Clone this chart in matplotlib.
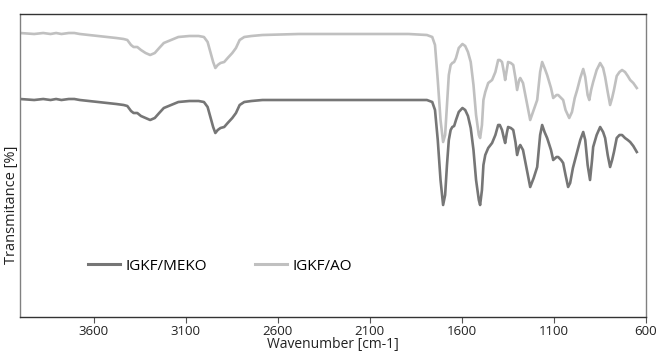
import matplotlib
matplotlib.use("Agg")
import matplotlib.pyplot as plt

plt.rcParams['font.family'] = ['Open Sans', 'DejaVu Sans']

# Wavenumber (cm-1) and transmittance (arbitrary units)
wn_ao = [4000, 3923, 3874, 3834, 3804, 3775, 3735, 3705, 3675, 3626, 3576, 3526, 3477,
         3437, 3417, 3397, 3383, 3363, 3343, 3318, 3293, 3268, 3244, 3219, 3179, 3140,
         3080, 3030, 3001, 2981, 2966, 2951, 2939, 2926, 2911, 2891, 2872, 2847, 2827,
         2807, 2782, 2743, 2683, 2485, 2286, 2088, 1890, 1790, 1761, 1746, 1731, 1716,
         1702, 1691, 1681, 1671, 1661, 1652, 1642, 1632, 1617, 1597, 1582, 1567, 1552,
         1537, 1523, 1508, 1501, 1491, 1483, 1473, 1457, 1436, 1418, 1403, 1394, 1382,
         1372, 1365, 1356, 1349, 1334, 1321, 1309, 1300, 1289, 1283, 1268, 1250, 1229,
         1210, 1191, 1175, 1164, 1151, 1137, 1116, 1104, 1086, 1077, 1061, 1050, 1037,
         1017, 1002, 987, 974, 957, 941, 930, 917, 908, 898, 887, 868, 849, 833, 822,
         808, 795, 784, 774, 759, 744, 730, 714, 699, 686, 669, 650]
t_ao = [276, 275, 276, 275, 276, 275, 276, 276, 275, 274, 273, 272, 271,
        270, 269, 264, 262, 262, 259, 256, 254, 256, 261, 266, 269, 272,
        273, 273, 272, 267, 257, 247, 241, 244, 246, 247, 251, 256, 261,
        269, 272, 273, 274, 275, 275, 275, 275, 274, 272, 264, 229, 189,
        167, 174, 204, 234, 244, 246, 247, 251, 261, 265, 263, 257, 247,
        224, 194, 174, 171, 184, 209, 217, 226, 229, 237, 249, 249, 247,
        237, 229, 239, 247, 246, 244, 231, 219, 229, 231, 226, 209, 189,
        199, 209, 237, 247, 241, 234, 221, 211, 214, 214, 211, 209, 199,
        191, 197, 211, 219, 231, 240, 232, 214, 209, 219, 227, 239, 246, 241, 232,
        217, 204, 211, 219, 233, 237, 239, 237, 233, 229, 226, 221]

wn_meko = [4000, 3923, 3874, 3834, 3804, 3775, 3735, 3705, 3675, 3626, 3576, 3526, 3477,
           3437, 3417, 3397, 3383, 3363, 3343, 3318, 3293, 3268, 3244, 3219, 3179, 3140,
           3080, 3030, 3001, 2981, 2966, 2951, 2939, 2926, 2911, 2891, 2872, 2847, 2827,
           2807, 2782, 2743, 2683, 2485, 2286, 2088, 1890, 1790, 1761, 1746, 1731, 1716,
           1702, 1691, 1681, 1671, 1661, 1652, 1642, 1632, 1617, 1597, 1582, 1567, 1552,
           1537, 1523, 1508, 1501, 1491, 1483, 1473, 1457, 1436, 1418, 1403, 1394, 1382,
           1372, 1365, 1356, 1349, 1334, 1321, 1309, 1300, 1289, 1283, 1268, 1250, 1229,
           1210, 1191, 1175, 1164, 1151, 1137, 1116, 1104, 1086, 1077, 1061, 1050, 1037,
           1023, 1012, 997, 974, 957, 941, 930, 917, 904, 893, 887, 868, 849, 833, 822,
           808, 795, 784, 774, 759, 744, 730, 714, 699, 686, 669, 650]
t_meko = [210, 209, 210, 209, 210, 209, 210, 210, 209, 208, 207, 206, 205,
          204, 203, 198, 196, 196, 193, 191, 189, 191, 196, 201, 204, 207,
          208, 208, 207, 202, 192, 182, 176, 179, 181, 182, 186, 191, 196,
          204, 207, 208, 209, 209, 209, 209, 209, 209, 207, 199, 169, 129,
          104, 114, 144, 169, 179, 182, 183, 189, 197, 201, 199, 193, 181,
          159, 129, 109, 104, 119, 144, 154, 161, 166, 174, 184, 184, 179,
          171, 166, 176, 182, 181, 179, 167, 154, 162, 164, 159, 142, 122,
          131, 142, 174, 184, 177, 171, 159, 149, 152, 152, 149, 146, 134,
          122, 126, 141, 157, 169, 177, 169, 144, 129, 149, 162, 174, 182, 177, 171,
          154, 142, 149, 157, 171, 174, 174, 171, 169, 167, 163, 157]

xticks = [3600, 3100, 2600, 2100, 1600, 1100, 600]

fig = plt.figure(figsize=(6.61, 3.54), dpi=100)
ax = fig.add_axes([20/661, 1 - 317/354, 626/661, 303/354])

ax.plot(wn_meko, t_meko, color='#767676', lw=1.9, label='IGKF/MEKO', solid_joinstyle='round')
ax.plot(wn_ao, t_ao, color='#c0c0c0', lw=1.9, label='IGKF/AO', solid_joinstyle='round')

ax.set_xlim(4000, 600)
ax.set_ylim(-8, 295)
ax.set_xticks(xticks)
ax.set_xticklabels([str(v) for v in xticks], fontsize=9.5, color='#222222')
ax.set_yticks([])
ax.tick_params(axis='x', direction='out', length=4, width=0.8, color='#555555', pad=2)
ax.set_xlabel('Wavenumber [cm-1]', fontsize=10, color='#222222', labelpad=-1)

for side, c in [('bottom', '#333333'), ('top', '#333333'), ('left', '#808080'), ('right', '#808080')]:
    ax.spines[side].set_color(c)
    ax.spines[side].set_linewidth(1.0)

fig.text(12/661, 1 - 205/354, 'Transmitance [%]', rotation=90, fontsize=10.5,
         color='#222222', ha='center', va='center')

leg = ax.legend(loc='center left', bbox_to_anchor=((88 - 20 - 8) / 626, (317 - 266) / 303),
                ncol=2, frameon=False, fontsize=11, handlelength=2.1, handletextpad=0.4,
                columnspacing=3.1, borderaxespad=0, borderpad=0.5)
for line in leg.get_lines():
    line.set_linewidth(2.2)

fig.savefig('out.png', dpi=100)
